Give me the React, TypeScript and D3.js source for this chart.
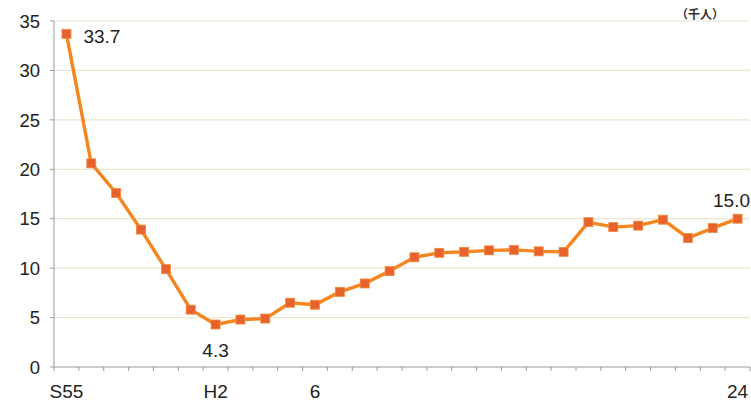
import React from "react";
import * as d3 from "d3";

const categories = ["S55", "", "", "", "", "", "H2", "", "", "", "6", "", "", "", "", "", "", "", "", "", "", "", "", "", "", "", "", "24"];
const values = [33.7, 20.6, 17.6, 13.9, 9.9, 5.8, 4.3, 4.8, 4.9, 6.5, 6.3, 7.6, 8.45, 9.7, 11.1, 11.55, 11.65, 11.8, 11.85, 11.7, 11.65, 14.65, 14.15, 14.3, 14.9, 13.05, 14.05, 15.0];
const yTicks = [0, 5, 10, 15, 20, 25, 30, 35];
const annotated = [
  { index: 0, text: "33.7", dx: 17, dy: 9, anchor: "start" },
  { index: 6, text: "4.3", dx: 0, dy: 33, anchor: "middle" },
  { index: 27, text: "15.0", dx: 14, dy: -12, anchor: "end" },
];
const unitLabel = "（千人）";

const W = 751;
const H = 407;
const M = { left: 54, right: 1, top: 21, bottom: 40 };

export default function App() {
  const x = d3
    .scaleBand<number>()
    .domain(d3.range(categories.length))
    .range([M.left, W - M.right])
    .paddingInner(0)
    .paddingOuter(0);
  const y = d3.scaleLinear().domain([0, 35]).range([H - M.bottom, M.top]);
  const cx = (i: number) => (x(i) as number) + x.bandwidth() / 2;
  const line = d3
    .line<number>()
    .x((_, i) => cx(i))
    .y((d) => y(d));
  const font = "'Liberation Sans', Arial, sans-serif";
  const boundaries = d3.range(categories.length + 1).map((i) => M.left + i * x.bandwidth());

  return (
    <svg
      width={W}
      height={H}
      style={{ position: "absolute", left: 0, top: 0, background: "#fff" }}
      fontFamily={font}
    >
      {yTicks.map((t) => (
        <g key={t}>
          {t > 0 && (
            <line x1={M.left} x2={W - M.right} y1={y(t)} y2={y(t)} stroke="#ebe6cf" strokeWidth={1.2} />
          )}
          <line x1={M.left - 4} x2={M.left} y1={y(t)} y2={y(t)} stroke="#9a9a9a" strokeWidth={1} />
          <text x={40} y={y(t)} dy="0.36em" textAnchor="end" fontSize={18.5} fill="#222">
            {t}
          </text>
        </g>
      ))}
      <line x1={M.left} x2={M.left} y1={M.top} y2={y(0)} stroke="#9a9a9a" strokeWidth={1} />
      <line x1={M.left} x2={W - M.right} y1={y(0)} y2={y(0)} stroke="#9a9a9a" strokeWidth={1} />
      {boundaries.map((bx, i) => (
        <line key={i} x1={bx} x2={bx} y1={y(0)} y2={y(0) + 4} stroke="#9a9a9a" strokeWidth={1} />
      ))}
      {categories.map((c, i) =>
        c ? (
          <text key={i} x={cx(i)} y={398} textAnchor="middle" fontSize={19} fill="#222">
            {c}
          </text>
        ) : null
      )}
      <path d={line(values) || ""} fill="none" stroke="#f5861f" strokeWidth={3.4} strokeLinejoin="round" />
      {values.map((v, i) => (
        <rect key={i} x={cx(i) - 4.5} y={y(v) - 4.5} width={9} height={9} fill="#e8622d" stroke="#f08a3a" strokeWidth={0.8} />
      ))}
      {annotated.map((a) => (
        <text
          key={a.index}
          x={Math.min(cx(a.index) + a.dx, W - 1)}
          y={y(values[a.index]) + a.dy}
          textAnchor={a.anchor}
          fontSize={19}
          fill="#222"
        >
          {a.text}
        </text>
      ))}
      <text x={700} y={19} textAnchor="middle" fontSize={12} fontWeight="bold" fill="#333" fontFamily="'Noto Sans CJK JP', sans-serif">
        {unitLabel}
      </text>
    </svg>
  );
}
